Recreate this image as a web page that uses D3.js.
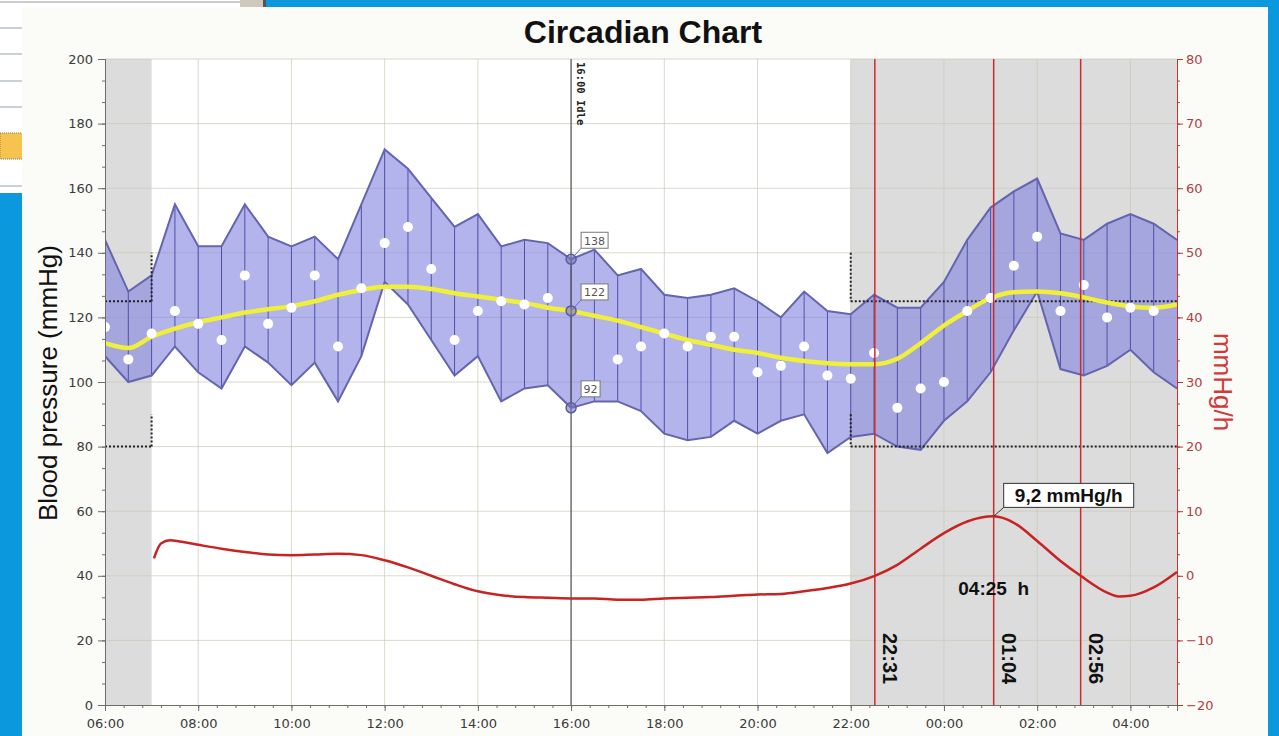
<!DOCTYPE html>
<html>
<head>
<meta charset="utf-8">
<script src="https://cdn.jsdelivr.net/npm/d3@7"></script>
<style>
  html, body { margin: 0; padding: 0; background: #0b98dd; overflow: hidden; }
  svg { display: block; }
</style>
</head>
<body>
<svg class="chart"></svg>
<script>
// half-hour slots, 06:00 -> 05:00 next day (hours past midnight of day 1)
var slots = d3.range(6, 29.001, 0.5);

var upper = [144,128,133,155,142,142,155,145,142,145,138,155,172,166,157,148,152,142,144,143,138,141,133,135,
             127,126,127,129,125,120,128,122,121,127,123,123,131,144,154,159,163,146,144,149,152,149,144];
var lower = [108,100,102,111,103,98,111,106,99,106,94,108,131,124,113,102,108,94,98,99,92,94,94,91,
             84,82,83,88,84,88,90,78,83,84,80,79,88,94,103,116,128,104,102,105,110,103,98];
var means = [117,107,115,122,118,113,133,118,123,133,111,129,143,148,135,113,122,125,124,126,null,null,107,111,
             115,111,114,114,103,105,111,102,101,109,92,98,100,122,126,136,145,122,130,120,123,122,null];
var trend = [112,110.5,114,116.5,118.5,120,121.5,122.5,123.5,125,127,128.5,129.5,129.5,128.8,127.5,126.5,125.5,124.5,123,122,120.5,119,117,
             115,113,111.5,110,109,107.5,106.5,105.8,105.5,105.5,107.2,112,117.5,122,126,127.8,128,127.5,126.2,124.6,123.4,123,124];

// rate of change (mmHg/h, right axis)
var rateHours  = [7.05,7.2,7.4,7.6,8,8.5,9,9.5,10,10.5,11,11.5,12,12.5,13,13.5,14,14.5,15,15.5,16,16.5,17,17.5,18,18.5,19,19.5,20,20.5,21,21.5,22,
                  22.517,23,23.5,24,24.5,25.067,25.5,26,26.5,26.933,27.5,27.75,28,28.5,29];
var rateValues = [2.7,5.0,5.5,5.3,4.8,4.2,3.7,3.3,3.2,3.3,3.4,3.2,2.4,1.3,0,-1.3,-2.4,-3.0,-3.3,-3.4,-3.5,-3.5,-3.7,-3.7,-3.5,-3.4,-3.3,-3.1,-2.9,-2.8,-2.4,-1.9,-1.2,
                  0,1.7,4.2,6.6,8.4,9.2,8.2,5.4,2.3,0,-2.6,-3.2,-3.1,-1.8,0.6];

var nightSpans = [[6, 7], [22, 29]];
var dayLimits = [140, 90], nightLimits = [125, 80];
var eventHours = [22.517, 25.067, 26.933];
var eventLabels = ["22:31", "01:04", "02:56"];
var cursorHour = 16, cursorValues = [138, 122, 92];
var peakHour = 25.067, peakValue = 9.2;

function draw() {
    var W = 1279, H = 736;
    var svg = d3.select(".chart").attr("width", W).attr("height", H);

    // --- surrounding window bits
    svg.append("rect").attr("x", 0).attr("y", 0).attr("width", 240).attr("height", 193).attr("fill", "#ffffff");
    svg.append("line").attr("x1", 0).attr("x2", 240).attr("y1", 2).attr("y2", 2).attr("stroke", "#9a9a9a");
    [28, 54, 81, 107, 186].forEach(function(yy) {
        svg.append("line").attr("x1", 0).attr("x2", 240).attr("y1", yy).attr("y2", yy).attr("stroke", "#8fa3b0");
    });
    svg.append("rect").attr("x", 0).attr("y", 133).attr("width", 240).attr("height", 26)
        .attr("fill", "#f6c350").attr("stroke", "#8a7a50").attr("stroke-dasharray", "1,1");
    svg.append("rect").attr("x", 240).attr("y", 0).attr("width", 23).attr("height", 10).attr("fill", "#cfc8bc");
    svg.append("rect").attr("x", 263).attr("y", 0).attr("width", 3).attr("height", 10).attr("fill", "#555");

    // chart panel
    svg.append("rect").attr("x", 22).attr("y", 7).attr("width", 1246).attr("height", 729).attr("fill", "#fbfbf8");

    var pl = 105, pr = 1177, pt = 59, pb = 705;
    var x = d3.scaleLinear().domain([6, 29]).range([pl, pr]);
    var y = d3.scaleLinear().domain([0, 200]).range([pb, pt]);
    var y2 = d3.scaleLinear().domain([-20, 80]).range([pb, pt]);

    svg.append("defs").append("clipPath").attr("id", "plotclip")
        .append("rect").attr("x", pl).attr("y", pt - 2).attr("width", pr - pl).attr("height", pb - pt + 4);

    var g = svg.append("g").attr("clip-path", "url(#plotclip)");
    g.append("rect").attr("x", pl).attr("y", pt).attr("width", pr - pl).attr("height", pb - pt).attr("fill", "#fff");

    // night shading
    g.selectAll("rect.night").data(nightSpans).enter().append("rect")
        .attr("x", function(d) { return x(d[0]); })
        .attr("width", function(d) { return x(d[1]) - x(d[0]); })
        .attr("y", pt).attr("height", pb - pt)
        .attr("fill", "#dcdcdc");

    // grid
    g.selectAll("line.vg").data(d3.range(8, 29, 2)).enter().append("line")
        .attr("x1", x).attr("x2", x).attr("y1", pt).attr("y2", pb)
        .attr("stroke", "#c9c9b8").attr("stroke-opacity", 0.7);
    g.selectAll("line.hg").data(d3.range(20, 201, 20)).enter().append("line")
        .attr("x1", pl).attr("x2", pr).attr("y1", y).attr("y2", y)
        .attr("stroke", "#c9c9b8").attr("stroke-opacity", 0.7);

    // min/max band
    var rows = slots.map(function(t, i) { return {t: t, hi: upper[i], lo: lower[i], m: means[i], tr: trend[i]}; });
    var area = d3.area().x(function(d) { return x(d.t); }).y0(function(d) { return y(d.lo); }).y1(function(d) { return y(d.hi); });
    g.append("path").datum(rows).attr("d", area).attr("fill", "#8282e0").attr("fill-opacity", 0.6);

    g.selectAll("line.bar").data(rows.slice(1, -1)).enter().append("line")
        .attr("x1", function(d) { return x(d.t); }).attr("x2", function(d) { return x(d.t); })
        .attr("y1", function(d) { return y(d.lo); }).attr("y2", function(d) { return y(d.hi); })
        .attr("stroke", "#5050a8").attr("stroke-width", 1);

    var hiLine = d3.line().x(function(d) { return x(d.t); }).y(function(d) { return y(d.hi); });
    var loLine = d3.line().x(function(d) { return x(d.t); }).y(function(d) { return y(d.lo); });
    g.append("path").datum(rows).attr("d", hiLine).attr("fill", "none").attr("stroke", "#6464b0").attr("stroke-width", 2);
    g.append("path").datum(rows).attr("d", loLine).attr("fill", "none").attr("stroke", "#6464b0").attr("stroke-width", 2);

    // limit lines (dotted)
    function limitSeg(t1, v1, t2, v2) {
        g.append("line").attr("x1", x(t1)).attr("x2", x(t2)).attr("y1", y(v1)).attr("y2", y(v2))
            .attr("stroke", "#222").attr("stroke-width", 2).attr("stroke-dasharray", "2,2");
    }
    nightLimits.forEach(function(v, i) {
        limitSeg(6, v, 7, v);
        limitSeg(7, v, 7, dayLimits[i]);
        limitSeg(22, dayLimits[i], 22, v);
        limitSeg(22, v, 29, v);
    });

    // trend
    g.append("path").datum(rows)
        .attr("d", d3.line().curve(d3.curveMonotoneX).x(function(d) { return x(d.t); }).y(function(d) { return y(d.tr); }))
        .attr("fill", "none").attr("stroke", "#f0ef3a").attr("stroke-width", 4.5);

    // means
    g.selectAll("circle.m").data(rows.filter(function(d) { return d.m != null; })).enter().append("circle")
        .attr("cx", function(d) { return x(d.t); }).attr("cy", function(d) { return y(d.m); })
        .attr("r", 5).attr("fill", "#fff");

    // event lines
    g.selectAll("line.ev").data(eventHours).enter().append("line")
        .attr("x1", x).attr("x2", x).attr("y1", pt).attr("y2", pb)
        .attr("stroke", "#d42828").attr("stroke-width", 1.5);
    g.selectAll("text.ev").data(eventHours).enter().append("text")
        .attr("transform", function(d) { return "translate(" + (x(d) + 8) + "," + 633 + ") rotate(90)"; })
        .attr("font-family", "Liberation Sans, Arial, sans-serif").attr("font-weight", "bold").attr("font-size", 20)
        .attr("fill", "#111")
        .text(function(d, i) { return eventLabels[i]; });

    // rate curve
    var rate = rateHours.map(function(t, i) { return [t, rateValues[i]]; });
    g.append("path").datum(rate)
        .attr("d", d3.line().curve(d3.curveMonotoneX).x(function(d) { return x(d[0]); }).y(function(d) { return y2(d[1]); }))
        .attr("fill", "none").attr("stroke", "#c82222").attr("stroke-width", 2.5);

    // peak annotation
    var px = x(peakHour), py = y2(peakValue);
    g.append("line").attr("x1", px).attr("y1", py).attr("x2", px + 10).attr("y2", py - 9).attr("stroke", "#333");
    g.append("rect").attr("x", px + 10).attr("y", py - 33).attr("width", 130).attr("height", 24)
        .attr("fill", "#fff").attr("stroke", "#333");
    g.append("text").attr("x", px + 75).attr("y", py - 14).attr("text-anchor", "middle")
        .attr("font-family", "Liberation Sans, Arial, sans-serif").attr("font-weight", "bold").attr("font-size", 19)
        .attr("fill", "#111").text("9,2 mmHg/h");
    g.append("text").attr("x", px).attr("y", y2(-3)).attr("text-anchor", "middle")
        .style("white-space", "pre")
        .attr("font-family", "Liberation Sans, Arial, sans-serif").attr("font-weight", "bold").attr("font-size", 19)
        .attr("fill", "#111").text("04:25  h");

    // cursor at 16:00
    var cx = x(cursorHour);
    g.append("line").attr("x1", cx).attr("x2", cx).attr("y1", pt).attr("y2", pb).attr("stroke", "#555").attr("stroke-width", 1.2);
    g.append("text").attr("transform", "translate(" + (cx + 6) + "," + 62 + ") rotate(90)")
        .attr("font-family", "DejaVu Sans Mono, monospace").attr("font-weight", "bold").attr("font-size", 10.5)
        .attr("fill", "#222").text("16:00 Idle");
    var cg = g.selectAll("g.cur").data(cursorValues).enter().append("g")
        .attr("transform", function(d) { return "translate(" + cx + "," + y(d) + ")"; });
    cg.append("line").attr("x1", 0).attr("y1", 0).attr("x2", 10).attr("y2", -11).attr("stroke", "#6a6aa8");
    cg.append("circle").attr("r", 5).attr("fill", "#7878c0").attr("fill-opacity", 0.6).attr("stroke", "#5a5aa0").attr("stroke-width", 1.5);
    cg.append("rect").attr("x", 10).attr("y", -27).attr("height", 16)
        .attr("width", function(d) { return d >= 100 ? 27 : 19; })
        .attr("fill", "#fff").attr("stroke", "#777");
    cg.append("text").attr("x", function(d) { return d >= 100 ? 23.5 : 19.5; }).attr("y", -14.5).attr("text-anchor", "middle")
        .attr("font-family", "DejaVu Sans, sans-serif").attr("font-size", 11).attr("fill", "#555")
        .text(function(d) { return d; });

    // axes
    function styleAxis(sel, col, txt) {
        sel.select(".domain").attr("stroke", col);
        sel.selectAll(".tick line").attr("stroke", col);
        sel.selectAll("text").attr("font-family", "DejaVu Sans, sans-serif").attr("font-size", 13).attr("fill", txt);
    }
    var ax;
    ax = svg.append("g").attr("transform", "translate(" + pl + ",0)")
        .call(d3.axisLeft(y).tickValues(d3.range(0, 201, 20)).tickSize(7).tickPadding(5));
    styleAxis(ax, "#6d6d6d", "#3a3a3a");
    ax = svg.append("g").attr("transform", "translate(" + pl + ",0)")
        .call(d3.axisLeft(y).tickValues(d3.range(0, 200, 20 / 3)).tickSize(3).tickFormat(""));
    styleAxis(ax, "#6d6d6d", "#3a3a3a");

    ax = svg.append("g").attr("transform", "translate(0," + pb + ")")
        .call(d3.axisBottom(x).tickValues(d3.range(6, 29, 2)).tickSize(6).tickPadding(8)
            .tickFormat(function(h) { return d3.format("02d")(h % 24) + ":00"; }));
    styleAxis(ax, "#6d6d6d", "#3a3a3a");
    ax = svg.append("g").attr("transform", "translate(0," + pb + ")")
        .call(d3.axisBottom(x).tickValues(d3.range(6, 29.001, 0.4)).tickSize(3).tickFormat(""));
    styleAxis(ax, "#6d6d6d", "#3a3a3a");

    ax = svg.append("g").attr("transform", "translate(" + pr + ",0)")
        .call(d3.axisRight(y2).tickValues(d3.range(-20, 81, 10)).tickSize(6).tickPadding(3));
    styleAxis(ax, "#c43232", "#b04040");
    ax = svg.append("g").attr("transform", "translate(" + pr + ",0)")
        .call(d3.axisRight(y2).tickValues(d3.range(-20, 80, 10 / 3)).tickSize(3).tickFormat(""));
    styleAxis(ax, "#c43232", "#b04040");

    // titles
    svg.append("text").attr("x", 643).attr("y", 43).attr("text-anchor", "middle")
        .attr("font-family", "Liberation Sans, Arial, sans-serif").attr("font-weight", "bold").attr("font-size", 32)
        .attr("fill", "#111").text("Circadian Chart");
    svg.append("text").attr("transform", "translate(57,383) rotate(-90)").attr("text-anchor", "middle")
        .attr("font-family", "Liberation Sans, Arial, sans-serif").attr("font-size", 26)
        .attr("fill", "#111").text("Blood pressure (mmHg)");
    svg.append("text").attr("transform", "translate(1214,382) rotate(90)").attr("text-anchor", "middle")
        .attr("font-family", "Liberation Sans, Arial, sans-serif").attr("font-size", 26)
        .attr("fill", "#d03a3a").text("mmHg/h");
}

draw();
</script>
</body>
</html>
